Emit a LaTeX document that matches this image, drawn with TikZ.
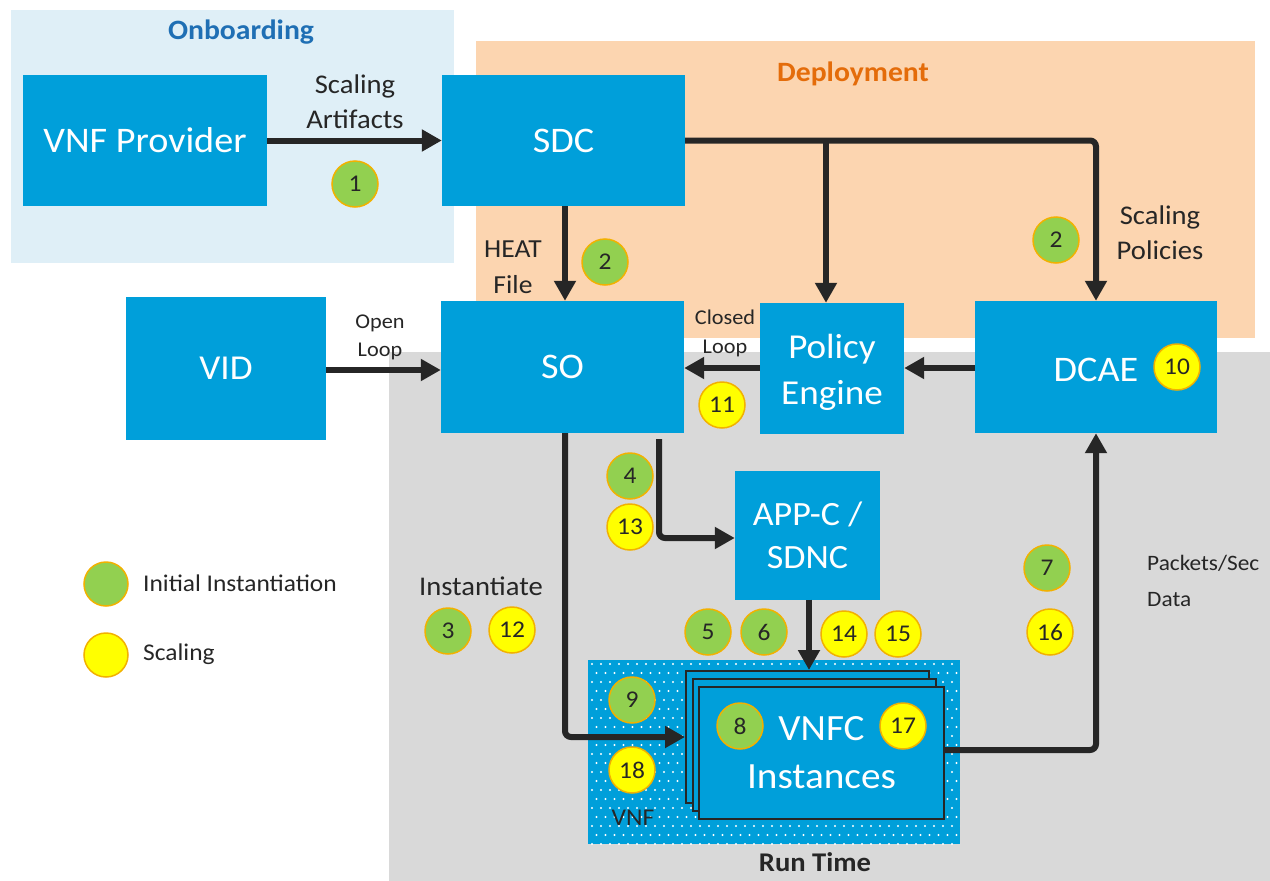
\documentclass[tikz,border=0pt]{standalone}
\usepackage{fontspec}
\setmainfont{Carlito}[FakeStretch=1.06]
\usetikzlibrary{arrows.meta}
\definecolor{boxblue}{HTML}{009FDA}
\definecolor{onbg}{HTML}{DFEFF7}
\definecolor{depbg}{HTML}{FCD5B0}
\definecolor{rtbg}{HTML}{D9D9D9}
\definecolor{arr}{HTML}{262626}
\definecolor{ontext}{HTML}{1F6FB4}
\definecolor{deptext}{HTML}{E46C0A}
\definecolor{stepgreen}{HTML}{92D050}
\definecolor{stepyellow}{HTML}{FFFF00}
\definecolor{stepring}{HTML}{F2B100}
\newcommand{\fs}[1]{\fontsize{#1}{1.3\dimexpr#1pt\relax}\selectfont}
\tikzset{
  blk/.style={fill=boxblue, text=white, inner sep=0pt, align=center},
  flow/.style={draw=arr, line width=6pt, -{Triangle[length=20pt,width=21pt]}, rounded corners=6pt},
  stepg/.style={circle, fill=stepgreen, draw=stepring, line width=1.5pt, minimum size=46pt, inner sep=0pt, text=arr, font=\fs{24}},
  stepy/.style={stepg, fill=stepyellow},
  lbl/.style={text=arr, align=center, inner sep=0pt},
}
\begin{document}
\begin{tikzpicture}[x=1pt,y=-1pt]
\useasboundingbox (0,0) rectangle (1270,881);
% backgrounds
\fill[onbg] (11,10) rectangle (454,263);
\fill[depbg] (476,41) rectangle (1255,338);
\fill[rtbg] (389,352) rectangle (1270,881);
\node[font=\fs{28}\bfseries, text=ontext] (onb) at (241,32) {Onboarding};
\node[font=\fs{28}\bfseries, text=deptext] (dep) at (853,74) {Deployment};
\node[font=\fs{27}\bfseries, text=arr] (rt) at (815,862) {Run Time};
% VNF container
\fill[boxblue] (588,660) rectangle (960,844);
\begin{scope}
\clip (588,660) rectangle (960,844);
\foreach \j in {0,...,20} {
  \pgfmathsetmacro{\off}{mod(\j,2)*4.5}
  \foreach \i in {0,...,41} {
    \fill[white] (592+\off+\i*9, 664+\j*9) circle (1.1);
  }
}
\end{scope}
% main blocks
\node[blk, minimum width=244pt, minimum height=131pt, font=\fs{36}] (vnfp) at (145,140.5) {VNF Provider};
\node[blk, minimum width=243pt, minimum height=131pt, font=\fs{36}] (sdc) at (563.5,140.5) {SDC};
\node[blk, minimum width=200pt, minimum height=143pt, font=\fs{35}] (vid) at (226,368.5) {VID};
\node[blk, minimum width=243pt, minimum height=132pt, font=\fs{36}] (so) at (562.5,367) {SO};
\node[blk, minimum width=144pt, minimum height=131pt] (pe) at (832,368.5) {};
\node[font=\fontsize{35}{46}\selectfont, text=white, align=center, inner sep=0pt] (pet) at (832,372) {Policy\\Engine};
\node[blk, minimum width=242pt, minimum height=132pt] (dcae) at (1096,367) {};
\node[font=\fs{36}, text=white, inner sep=0pt] (dcaet) at (1096,370) {DCAE};
\node[blk, minimum width=145pt, minimum height=129pt, font=\fontsize{34}{43}\selectfont] (appc) at (807.5,535) {APP-C /\\SDNC};
% VNFC stack
\node[blk, draw=arr, line width=2pt, minimum width=243pt, minimum height=132pt] (back) at (807.5,737) {};
\node[blk, draw=arr, line width=2pt, minimum width=243pt, minimum height=132pt] (mid) at (814.5,745) {};
\node[blk, draw=arr, line width=2pt, minimum width=245pt, minimum height=132pt, font=\fontsize{37}{48}\selectfont] (front) at (821.5,753) {VNFC\\Instances};
% labels
\node[lbl, font=\fontsize{27}{35}\selectfont] (sa) at (355,102) {Scaling\\Artifacts};
\node[lbl, font=\fontsize{26}{36}\selectfont] (heat) at (513,267) {HEAT\\File};
\node[lbl, font=\fontsize{27}{35}\selectfont] (sp) at (1160,233) {Scaling\\Policies};
\node[lbl, font=\fontsize{21}{28}\selectfont] (ol) at (380,337) {Open\\Loop};
\node[lbl, font=\fontsize{21}{29}\selectfont] (cl) at (725,333) {Closed\\Loop};
\node[lbl, font=\fontsize{22}{36}\selectfont, align=left, anchor=west] (pkt) at (1147,581) {Packets/Sec\\Data};
\node[lbl, font=\fs{27}] (inst) at (481,586) {Instantiate};
\node[lbl, font=\fs{24}] (vnf) at (633,818) {VNF};
% legend
\node[stepg, minimum size=44pt] (lg) at (106,584) {};
\node[lbl, font=\fs{24}, anchor=west] (lgt) at (143,583) {Initial Instantiation};
\node[stepy, minimum size=44pt] (ly) at (106,655) {};
\node[lbl, font=\fs{24}, anchor=west] (lyt) at (143,654) {Scaling};
% connectors
\coordinate (br) at (826,141);
\draw[flow] (vnfp.east) -- (sdc.west);
\draw[flow] (sdc.south -| 565,0) -- (so.north -| 565,0);
\draw[flow] (sdc.east) -| (dcae.north);
\draw[flow] (br) -- (pe.north -| br);
\draw[flow] (vid.east |- 0,370) -- (so.west |- 0,370);
\draw[flow] (pe.west |- 0,368) -- (so.east |- 0,368);
\draw[flow] (dcae.west |- 0,368) -- (pe.east |- 0,368);
\draw[flow] (so.south -| 565,0) |- (back.west);
\draw[flow] ([yshift=-6pt]so.south -| 659,0) |- (appc.west |- 0,538);
\draw[flow] (appc.south -| 809,0) -- (back.north -| 809,0);
\draw[flow] (front.east |- 0,750) -| (dcae.south);
% steps
\node[stepg] (s1) at (355,184) {1};
\node[stepg] (s2a) at (605,262) {2};
\node[stepg] (s2b) at (1056,240) {2};
\node[stepy] (s10) at (1177,367) {10};
\node[stepy] (s11) at (722,405) {11};
\node[stepg] (s4) at (630,476) {4};
\node[stepy] (s13) at (630,527) {13};
\node[stepg] (s3) at (448,631) {3};
\node[stepy] (s12) at (512,630) {12};
\node[stepg] (s5) at (708,632) {5};
\node[stepg] (s6) at (764,632) {6};
\node[stepy] (s14) at (844,634) {14};
\node[stepy] (s15) at (898,634) {15};
\node[stepg] (s7) at (1047,568) {7};
\node[stepy] (s16) at (1050,632) {16};
\node[stepg] (s9) at (632,700) {9};
\node[stepy] (s18) at (632,770) {18};
\node[stepg] (s8) at (740,726) {8};
\node[stepy] (s17) at (903,726) {17};
\end{tikzpicture}
\end{document}
